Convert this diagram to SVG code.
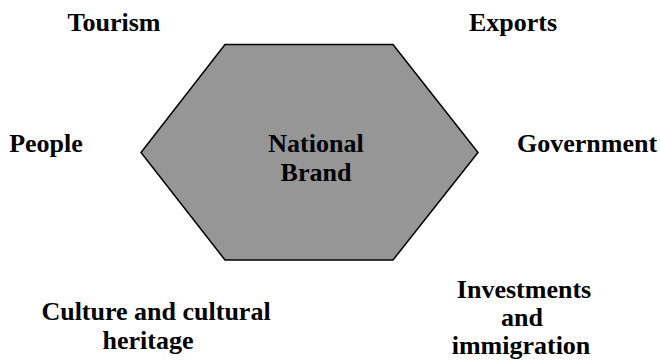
<svg xmlns="http://www.w3.org/2000/svg" width="660" height="361" viewBox="0 0 660 361">
<style>
text{font-family:'Liberation Serif','Times New Roman',Times,'Nimbus Roman','DejaVu Serif',serif;font-weight:700;font-size:26px;fill:#000;text-anchor:middle}
.hex{fill:#969696;stroke:#000;stroke-width:1.5}
</style>
<rect width="660" height="361" fill="#fff"/>
<g id="national-brand">
<polygon class="hex" points="225,44.5 393,44.5 478,152.5 393,260 225,260 141,152.5"/>
<text x="316" y="152" font-family="Liberation Serif, serif">National</text>
<text x="316" y="181" font-family="Liberation Serif, serif">Brand</text>
</g>
<g id="tourism"><text x="114" y="31">Tourism</text></g>
<g id="exports"><text x="513" y="31">Exports</text></g>
<g id="people"><text x="46" y="152">People</text></g>
<g id="government"><text x="587" y="152">Government</text></g>
<g id="culture"><text x="156" y="320">Culture and cultural</text><text x="148" y="349">heritage</text></g>
<g id="investments"><text x="524" y="298">Investments</text><text x="522" y="326">and</text><text x="521" y="354">immigration</text></g>
<g id="connectors"></g>
</svg>
